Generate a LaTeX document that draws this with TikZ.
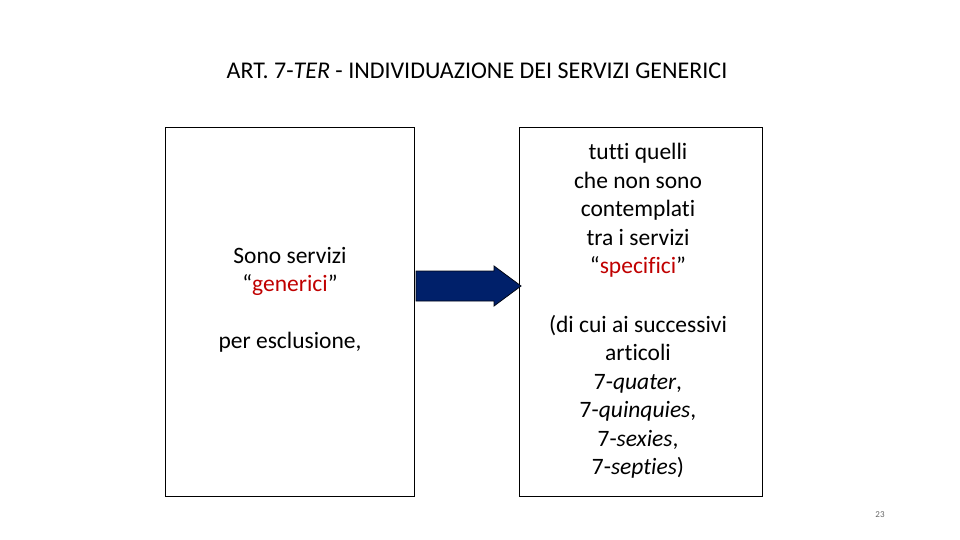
\documentclass[tikz,border=0pt]{standalone}
\usepackage{fontspec}
\setmainfont{Carlito}[Ligatures=NoCommon]
\definecolor{dred}{HTML}{C00000}
\definecolor{navy}{HTML}{00206A}
\begin{document}
\begin{tikzpicture}[x=1pt,y=-1pt,
  box/.style={draw=black,line width=0.8pt},
  txt/.style={font=\fontsize{23.5}{28.5}\selectfont,align=center,inner sep=0pt}]
\useasboundingbox (0,0) rectangle (960,540);
\node[font=\fontsize{24}{28}\selectfont,inner sep=0pt] (title) at (477,71) {ART. 7-\textit{TER} - INDIVIDUAZIONE DEI SERVIZI GENERICI};
\draw[box] (165,127) rectangle (414,496);
\draw[box] (519,127) rectangle (762,496);
\draw[fill=navy,draw=black!80!navy,line width=0.8pt] (416,271) -- (494,271) -- (494,266) -- (521,286) -- (494,306) -- (494,301) -- (416,301) -- cycle;
\node[txt] (l1) at (290,256) {Sono servizi};
\node[txt] (l2) at (290,285) {“\textcolor{dred}{generici}”};
\node[txt] (l3) at (290,342) {per esclusione,};
\node[txt,anchor=north] (r1) at (638,143) {tutti quelli\\che non sono\\contemplati\\tra i servizi\\“\textcolor{dred}{specifici}”};
\node[txt,anchor=north] (r2) at (638,315) {(di cui ai successivi\\articoli\\7-\textit{quater},\\7-\textit{quinquies},\\7-\textit{sexies},\\7-\textit{septies})};
\node[font=\fontsize{9}{10}\selectfont,text=black!60,inner sep=0pt] (pg) at (880,515) {23};
\end{tikzpicture}
\end{document}
